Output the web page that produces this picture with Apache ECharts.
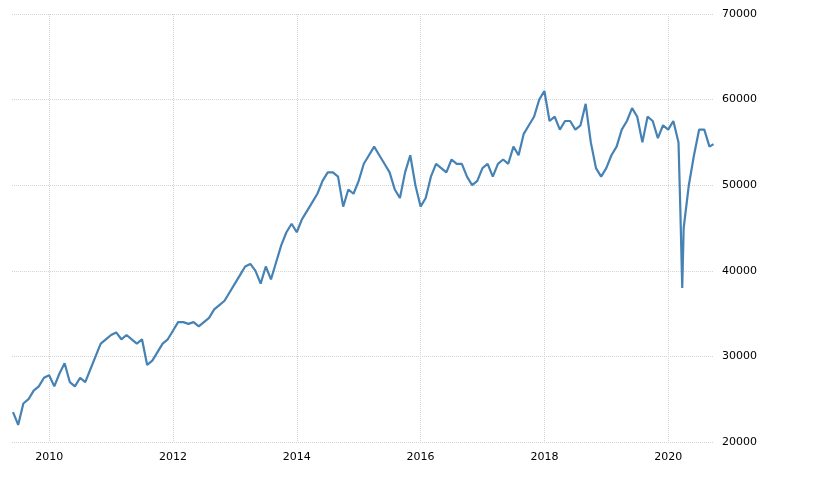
<!DOCTYPE html>
<html><head><meta charset="utf-8">
<script src="https://cdn.jsdelivr.net/npm/echarts@6/dist/echarts.min.js"></script>
<style>html,body{margin:0;padding:0;background:#fff}#c{width:820px;height:478px}</style>
</head><body><div id="c"></div>
<script>
const startMonth = '2009-06';
const values = [
 23500,22000,24500,25000,26000,26500,27500,
 27800,26500,28000,29200,27000,26500,27500,27000,28500,30000,31500,32000,
 32500,32800,32000,32500,32000,31500,32000,29000,29500,30500,31500,32000,
 33000,34000,34000,33800,34000,33500,34000,34500,35500,36000,36500,37500,
 38500,39500,40500,40800,40000,38500,40500,39000,41000,43000,44500,45500,
 44500,46000,47000,48000,49000,50500,51500,51500,51000,47500,49500,49000,
 50500,52500,53500,54500,53500,52500,51500,49500,48500,51500,53500,50000,
 47500,48500,51000,52500,52000,51500,53000,52500,52500,51000,50000,50500,
 52000,52500,51000,52500,53000,52500,54500,53500,56000,57000,58000,60000,
 61000,57500,58000,56500,57500,57500,56500,57000,59500,55000,52000,51000,
 52000,53500,54500,56500,57500,59000,58000,55000,58000,57500,55500,57000,
 56500,57500,55000,45000,50000,53500,56500,56500,54500
];
const extraPoints = [['2020-03-12',47000],['2020-03-23',38000],['2020-09-25',54800]];
const yearTicks = [2010,2012,2014,2016,2018,2020];

function dec(y,m,d){ return y + (m + (d-1)/30.5)/12; }
const data = [];
let [y0,m0] = startMonth.split('-').map(Number);
values.forEach((v,i)=>{
  const m = m0-1+i;
  data.push([dec(y0+Math.floor(m/12), m%12, 1), v]);
});
extraPoints.forEach(p=>{const [y,m,d]=p[0].split('-').map(Number);data.push([dec(y,m-1,d),p[1]]);});
data.sort((a,b)=>a[0]-b[0]);

const chart = echarts.init(document.getElementById('c'));
chart.setOption({
  animation:false,
  grid:{left:12,right:106,top:14,bottom:36},
  xAxis:{type:'value',min:2009.4,max:2020.74,
    axisLine:{show:false},
    axisTick:{show:false,customValues:yearTicks},
    axisLabel:{customValues:yearTicks,formatter:v=>String(Math.round(v)),color:'#000',fontFamily:'DejaVu Sans',fontSize:11,margin:10},
    splitLine:{show:true,lineStyle:{color:'#d4d4d4',type:'dotted'}}},
  yAxis:{type:'value',position:'right',min:20000,max:70000,interval:10000,
    axisLine:{show:false},axisTick:{show:false},
    axisLabel:{formatter:v=>String(v),color:'#000',fontFamily:'DejaVu Sans',fontSize:11,margin:8},
    splitLine:{lineStyle:{color:'#d4d4d4',type:'dotted'}}},
  series:[{type:'line',data:data,showSymbol:false,lineStyle:{color:'#4682b4',width:2.2},itemStyle:{color:'#4682b4'}}]
});
</script></body></html>
